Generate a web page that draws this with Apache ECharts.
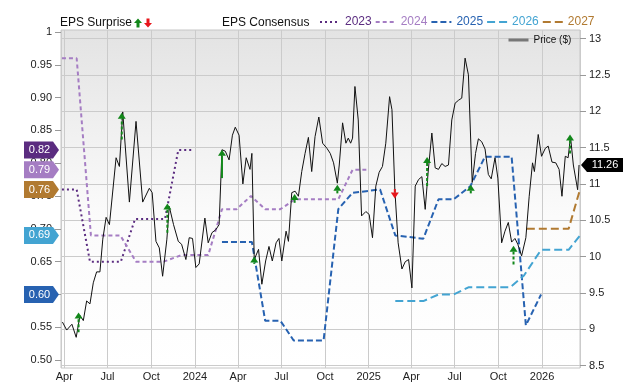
<!DOCTYPE html>
<html><head><meta charset="utf-8">
<script src="https://cdn.jsdelivr.net/npm/echarts@6/dist/echarts.min.js"></script>
<style>html,body{margin:0;padding:0;background:#fff}#c{width:640px;height:382px}</style>
</head><body><div id="c"></div>
<script>
// ---------- data ----------
const xRange = ['2023-03-25', '2026-03-22'];
const epsTicks = [0.5, 0.55, 0.6, 0.65, 0.7, 0.75, 0.8, 0.85, 0.9, 0.95, 1];
const priceTicks = [8.5, 9, 9.5, 10, 10.5, 11, 11.5, 12, 12.5, 13];
const monthNames = ['Jan','Feb','Mar','Apr','May','Jun','Jul','Aug','Sep','Oct','Nov','Dec'];

const eps2023 = [['2023-03-27',0.76],['2023-04-27',0.76],['2023-05-25',0.65],['2023-07-29',0.65],
  ['2023-08-28',0.715],['2023-10-30',0.715],['2023-11-27',0.82],['2023-12-29',0.82]];
const eps2024 = [['2023-03-27',0.96],['2023-04-27',0.96],['2023-05-27',0.69],['2023-07-28',0.69],
  ['2023-08-30',0.65],['2023-10-27',0.65],['2023-12-04',0.66],['2024-01-29',0.66],['2024-02-27',0.73],
  ['2024-03-29',0.73],['2024-04-28',0.75],['2024-05-28',0.73],['2024-06-29',0.73],['2024-07-30',0.745],
  ['2024-10-29',0.745],['2024-11-28',0.79],['2024-12-27',0.79]];
const eps2025 = [['2024-02-27',0.68],['2024-04-30',0.68],['2024-05-28',0.56],['2024-06-29',0.56],
  ['2024-07-27',0.53],['2024-09-28',0.53],['2024-10-29',0.73],['2024-11-28',0.755],['2025-01-25',0.76],
  ['2025-02-26',0.69],['2025-04-26',0.685],['2025-05-28',0.745],['2025-06-29',0.745],['2025-08-03',0.765],
  ['2025-09-03',0.81],['2025-10-29',0.81],['2025-11-28',0.553],['2025-12-30',0.60]];
const eps2026 = [['2025-02-26',0.59],['2025-04-26',0.59],['2025-05-28',0.60],['2025-06-29',0.60],
  ['2025-07-30',0.611],['2025-10-26',0.611],['2025-11-24',0.629],['2025-12-30',0.668],['2026-02-26',0.668],
  ['2026-03-22',0.69]];
const eps2027 = [['2025-11-30',0.70],['2026-02-26',0.70],['2026-03-22',0.76]];

const price = [['2023-03-28',9.10],['2023-04-06',8.99],['2023-04-17',9.07],['2023-04-26',8.89],['2023-05-04',9.19],
['2023-05-11',9.12],['2023-05-18',9.39],['2023-05-25',9.35],['2023-06-01',9.64],['2023-06-08',9.79],['2023-06-15',9.79],
['2023-06-21',10.24],['2023-06-28',10.54],['2023-07-05',10.44],['2023-07-19',11.36],['2023-07-26',11.24],['2023-08-02',11.99],
['2023-08-16',10.75],['2023-08-30',11.86],['2023-09-13',10.75],['2023-09-27',10.94],['2023-10-03',10.88],['2023-10-11',10.21],
['2023-10-18',10.12],['2023-10-25',9.73],['2023-11-03',10.24],['2023-11-08',10.69],['2023-11-17',10.44],['2023-11-27',10.21],
['2023-12-04',10.17],['2023-12-13',9.96],['2023-12-20',10.26],['2023-12-27',10.25],['2024-01-03',9.85],['2024-01-10',9.90],
['2024-01-22',10.53],['2024-01-29',10.19],['2024-02-06',10.33],['2024-02-14',10.37],['2024-02-21',10.44],['2024-02-27',11.47],
['2024-03-05',11.45],['2024-03-13',11.33],['2024-03-20',11.67],['2024-03-26',11.78],['2024-04-03',11.67],['2024-04-11',11.00],
['2024-04-18',11.36],['2024-04-26',11.20],['2024-04-30',11.42],['2024-05-05',9.96],['2024-05-14',10.10],['2024-05-21',9.62],
['2024-05-29',9.94],['2024-06-05',10.14],['2024-06-12',9.94],['2024-06-20',10.19],['2024-06-26',10.25],['2024-07-02',9.94],
['2024-07-11',10.35],['2024-07-16',10.21],['2024-07-23',10.88],['2024-07-30',10.90],['2024-08-06',10.83],['2024-08-13',11.17],
['2024-08-20',11.42],['2024-08-27',11.64],['2024-09-03',11.17],['2024-09-10',11.65],['2024-09-18',11.92],['2024-09-26',11.56],
['2024-10-05',11.49],['2024-10-12',11.42],['2024-10-19',11.29],['2024-10-27',11.01],['2024-10-31',11.26],['2024-11-07',11.84],
['2024-11-14',11.56],['2024-11-19',11.63],['2024-11-24',11.56],['2024-11-28',11.63],['2024-12-03',12.34],['2024-12-10',11.88],
['2024-12-17',10.56],['2024-12-26',10.62],['2025-01-02',10.58],['2025-01-09',10.26],['2025-01-16',10.97],['2025-01-23',11.16],
['2025-01-30',11.24],['2025-02-06',11.56],['2025-02-14',12.20],['2025-02-19',12.02],['2025-02-25',10.93],['2025-03-04',10.19],
['2025-03-12',9.83],['2025-03-19',9.93],['2025-03-26',9.96],['2025-04-02',9.57],['2025-04-09',10.97],['2025-04-16',11.06],
['2025-04-23',11.10],['2025-04-30',10.65],['2025-05-06',11.15],['2025-05-14',11.70],['2025-05-21',11.22],['2025-05-28',11.20],
['2025-06-04',11.28],['2025-06-11',11.24],['2025-06-18',11.26],['2025-06-25',11.88],['2025-07-02',12.11],['2025-07-09',12.15],
['2025-07-16',12.18],['2025-07-23',12.73],['2025-07-30',12.50],['2025-08-07',11.02],['2025-08-14',11.42],['2025-08-20',11.62],
['2025-08-27',11.58],['2025-09-03',11.48],['2025-09-10',11.13],['2025-09-16',11.07],['2025-09-24',11.36],['2025-09-30',11.08],
['2025-10-08',10.19],['2025-10-15',10.35],['2025-10-22',10.47],['2025-10-29',10.20],['2025-11-05',10.25],['2025-11-11',10.17],
['2025-11-19',10.01],['2025-11-28',10.26],['2025-12-05',10.83],['2025-12-12',11.29],['2025-12-16',11.17],['2025-12-24',11.68],
['2025-12-31',11.38],['2026-01-08',11.49],['2026-01-14',11.52],['2026-01-22',11.30],['2026-01-30',11.29],['2026-02-06',11.20],
['2026-02-12',10.83],['2026-02-19',11.38],['2026-02-25',11.36],['2026-03-02',11.65],['2026-03-08',11.26],['2026-03-17',10.92],
['2026-03-20',11.26]];

// EPS surprise arrows: [date, from price, to price]
const surpriseBeat = [['2023-05-01',8.96,9.23],['2023-07-31',11.61,11.98],['2023-11-04',10.33,10.73],
  ['2024-02-27',11.08,11.47],['2024-05-05',9.90,10.00],['2024-07-29',10.74,10.86],['2024-10-27',10.87,10.99],
  ['2025-05-04',10.97,11.37],['2025-08-04',10.87,10.99],['2025-11-02',9.89,10.15],['2026-03-01',11.42,11.68]];
const surpriseBeatSolid = [false,false,false,true,false,false,false,false,false,false,false];
const surpriseMiss = [['2025-02-25',10.93,10.80]];
const surpriseMissSolid = [true];

// ---------- build ----------
const T = s => { const [y,m,d] = s.split('-').map(Number); return new Date(y, m-1, d).getTime(); };
const conv = arr => arr.map(r => [T(r[0])].concat(r.slice(1)));
const FONT = 'Liberation Sans, Arial, sans-serif';
const COL = {'2023':'#5b2c80','2024':'#a57dc3','2025':'#2762b1','2026':'#43a4d2','2027':'#b17a31'};
const GREEN = '#12871a', RED = '#e8161b';
const XMIN = T(xRange[0]), XMAX = T(xRange[1]);

const leftTag = 'path://M0,0 L29,0 L35,8.5 L29,17 L0,17 Z';
const rightTag = 'path://M0,7 L6,0 L42,0 L42,14 L6,14 Z';

function epsSeries(name, arr, dash, width) {
  const d = conv(arr);
  const last = d[d.length - 1][1];
  return {
    name, type: 'line', yAxisIndex: 0, data: d, symbol: 'none', z: 2,
    lineStyle: {color: COL[name], width: width, type: dash},
    itemStyle: {color: COL[name]},
    markPoint: {
      symbol: leftTag, symbolSize: [35, 17], symbolOffset: [-19.5, 0], silent: true,
      itemStyle: {color: COL[name]},
      label: {show: true, position: 'inside', offset: [-2, 0], color: '#fff', fontSize: 11, fontFamily: FONT,
        formatter: p => p.value.toFixed(2)},
      data: [{coord: [XMIN, last], value: last}]
    }
  };
}

function arrowRender(solidArr, color) {
  return function (params, api) {
    const t = api.value(0);
    const p0 = api.coord([t, api.value(1)]);
    const p1 = api.coord([t, api.value(2)]);
    const dir = p1[1] < p0[1] ? 1 : -1;
    const hh = 6, hw = 4;
    const base = p1[1] + dir * hh;
    const solid = solidArr[params.dataIndex];
    return {type: 'group', children: [
      {type: 'line', shape: {x1: p0[0], y1: p0[1], x2: p1[0], y2: base},
        style: {stroke: color, lineWidth: 2, lineDash: solid ? null : [3, 2]}},
      {type: 'polygon', shape: {points: [[p1[0], p1[1]], [p1[0] - hw, base], [p1[0] + hw, base]]},
        style: {fill: color}}
    ]};
  };
}

const priceData = conv(price);
const lastPrice = priceData[priceData.length - 1][1];
const noSymbol = {color: 'rgba(0,0,0,0)', borderWidth: 0, opacity: 0};

const option = {
  animation: false,
  textStyle: {fontFamily: FONT},
  title: [
    {text: 'EPS Surprise', left: 60, top: 17, padding: 0, textStyle: {fontSize: 12, fontWeight: 'normal', color: '#111', fontFamily: FONT}},
    {text: 'EPS Consensus', left: 222, top: 17, padding: 0, textStyle: {fontSize: 12, fontWeight: 'normal', color: '#111', fontFamily: FONT}}
  ],
  legend: [
    {left: 319, top: 16, padding: 0, itemWidth: 20, itemHeight: 14, itemGap: 3,
      itemStyle: noSymbol,
      textStyle: {fontSize: 12, fontFamily: FONT},
      data: ['2023','2024','2025','2026','2027'].map(n => ({name: n, textStyle: {color: COL[n]}}))},
    {left: 134, top: 18, padding: 0, itemWidth: 8, itemHeight: 10, itemGap: 2, formatter: () => '',
      data: [{name: 'Beat', icon: 'path://M4,0 L8,4.5 L5.5,4.5 L5.5,9 L2.5,9 L2.5,4.5 L0,4.5 Z'},
             {name: 'Miss', icon: 'path://M4,9 L8,4.5 L5.5,4.5 L5.5,0 L2.5,0 L2.5,4.5 L0,4.5 Z'}]},
    {left: 507, top: 35, padding: 0, itemWidth: 20, itemHeight: 12,
      itemStyle: noSymbol,
      textStyle: {fontSize: 10, color: '#111', fontFamily: FONT},
      data: [{name: 'Price ($)', lineStyle: {color: '#777', width: 3}}]}
  ],
  grid: {left: 61, right: 60, top: 30, bottom: 13, show: true, borderColor: '#c6c6c6', borderWidth: 1,
    backgroundColor: new echarts.graphic.LinearGradient(0, 0, 0, 1, [
      {offset: 0, color: '#e3e3e3'}, {offset: 0.55, color: '#fbfbfb'}, {offset: 1, color: '#ffffff'}])},
  xAxis: {
    type: 'time', min: XMIN, max: XMAX, splitNumber: 12,
    minInterval: 80 * 86400000, maxInterval: 100 * 86400000,
    axisLine: {show: false}, axisTick: {show: false},
    splitLine: {show: true, lineStyle: {color: '#cbcbcb', width: 1}},
    axisLabel: {color: '#222', fontSize: 11, margin: 3, fontFamily: FONT,
      formatter: v => { const d = new Date(v); return d.getMonth() === 0 ? String(d.getFullYear()) : monthNames[d.getMonth()]; }}
  },
  yAxis: [
    {type: 'value', position: 'left', min: 0.488, max: 1.003,
      axisLine: {show: false},
      axisTick: {show: true, length: 6, customValues: epsTicks, lineStyle: {color: '#999'}},
      axisLabel: {color: '#222', fontSize: 11, margin: 9, fontFamily: FONT, customValues: epsTicks,
        formatter: v => v === 1 ? '1' : v.toFixed(2)},
      splitLine: {show: false}},
    {type: 'value', position: 'right', min: 8.468, max: 13.117,
      axisLine: {show: false},
      axisTick: {show: true, length: 6, customValues: priceTicks, lineStyle: {color: '#999'}},
      axisLabel: {color: '#222', fontSize: 11, margin: 9, fontFamily: FONT, customValues: priceTicks,
        formatter: v => String(v)},
      splitLine: {show: true, lineStyle: {color: '#cbcbcb', width: 1}}}
  ],
  series: [
    epsSeries('2023', eps2023, [2, 3], 2),
    epsSeries('2024', eps2024, [4, 3], 2),
    epsSeries('2025', eps2025, [6, 3], 2),
    epsSeries('2026', eps2026, [8, 4], 2),
    epsSeries('2027', eps2027, [8, 4], 2),
    {name: 'Price ($)', type: 'line', yAxisIndex: 1, data: priceData, symbol: 'none', z: 3,
      lineStyle: {color: '#111', width: 1}, itemStyle: {color: '#111'},
      markPoint: {symbol: rightTag, symbolSize: [42, 14], symbolOffset: [22, 0], silent: true,
        itemStyle: {color: '#000'},
        label: {show: true, position: 'inside', offset: [3, 0], color: '#fff', fontSize: 11, fontFamily: FONT,
          formatter: p => p.value.toFixed(2)},
        data: [{coord: [XMAX, lastPrice], value: lastPrice}]}},
    {name: 'Beat', type: 'custom', yAxisIndex: 1, z: 4, itemStyle: {color: GREEN},
      encode: {x: 0, y: [1, 2]}, data: conv(surpriseBeat), renderItem: arrowRender(surpriseBeatSolid, GREEN)},
    {name: 'Miss', type: 'custom', yAxisIndex: 1, z: 4, itemStyle: {color: RED},
      encode: {x: 0, y: [1, 2]}, data: conv(surpriseMiss), renderItem: arrowRender(surpriseMissSolid, RED)}
  ]
};
echarts.init(document.getElementById('c')).setOption(option);
</script></body></html>
